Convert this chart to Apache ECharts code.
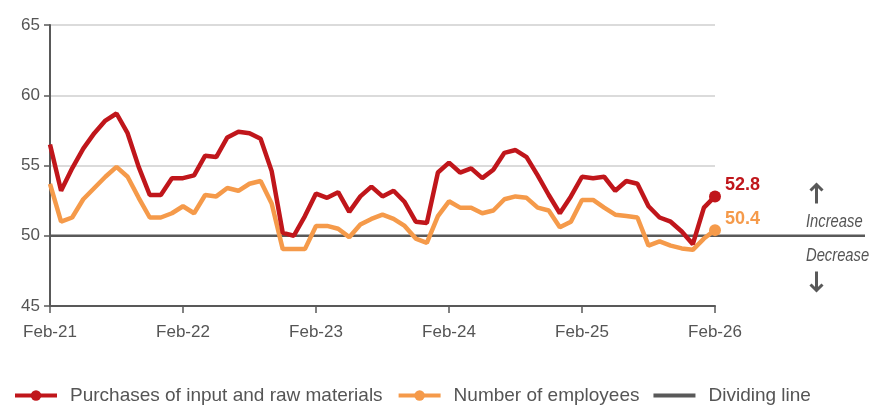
<!DOCTYPE html>
<html><head><meta charset="utf-8">
<script src="https://cdn.jsdelivr.net/npm/echarts@6/dist/echarts.min.js"></script>
<style>html,body{margin:0;padding:0;background:#fff}#c{width:870px;height:406px}</style>
</head><body><div id="c"></div>
<script>
const categories = ["Feb-21","Mar-21","Apr-21","May-21","Jun-21","Jul-21","Aug-21","Sep-21","Oct-21","Nov-21","Dec-21","Jan-22",
"Feb-22","Mar-22","Apr-22","May-22","Jun-22","Jul-22","Aug-22","Sep-22","Oct-22","Nov-22","Dec-22","Jan-23",
"Feb-23","Mar-23","Apr-23","May-23","Jun-23","Jul-23","Aug-23","Sep-23","Oct-23","Nov-23","Dec-23","Jan-24",
"Feb-24","Mar-24","Apr-24","May-24","Jun-24","Jul-24","Aug-24","Sep-24","Oct-24","Nov-24","Dec-24","Jan-25",
"Feb-25","Mar-25","Apr-25","May-25","Jun-25","Jul-25","Aug-25","Sep-25","Oct-25","Nov-25","Dec-25","Jan-26","Feb-26"];
const purchases = [56.5,53.2,54.8,56.2,57.3,58.2,58.7,57.3,54.9,52.9,
52.9,54.1,54.1,54.3,55.7,55.6,57.0,57.4,57.3,56.9,
54.6,50.2,50.0,51.4,53.0,
52.7,53.1,51.7,52.8,53.5,52.8,53.2,52.4,51.0,50.9,
54.5,55.2,54.5,54.8,54.1,54.7,55.9,56.1,55.6,54.3,
52.9,51.6,52.8,54.2,54.1,54.2,53.2,53.9,53.7,52.1,
51.3,51.0,50.3,49.4,52.0,52.8];
const employees = [53.7,51.0,51.3,52.6,53.4,54.2,54.9,54.2,52.7,51.3,
51.3,51.6,52.1,51.6,52.9,52.8,53.4,53.2,53.7,53.9,
52.3,49.05,49.05,49.05,50.7,
50.7,50.5,49.9,50.8,51.2,51.5,51.2,50.7,49.8,49.5,
51.4,52.45,52.0,52.0,51.6,51.8,52.6,52.8,52.7,52.0,
51.8,50.6,51.0,52.55,52.55,52.0,51.5,51.4,51.3,49.3,
49.6,49.3,49.1,49.0,49.8,50.4];
const dividing = [[0,50],[1,50]];
const yTicks = {min:45, max:65, interval:5};
const seriesNames = ["Purchases of input and raw materials","Number of employees","Dividing line"];
const notes = {up:"Increase", down:"Decrease"};

const FONT = "'Liberation Sans', sans-serif";
const RED = '#C0161B', ORANGE = '#F59A4A', GRAY = '#595959', TXT = '#555555';

function lastPointData(arr, color){
  return arr.map((v,i)=> i===arr.length-1 ? {
    value:v, symbol:'circle', symbolSize:12,
    label:{show:true, position:'right', offset:[-1,-11], color:color, fontWeight:'bold', fontSize:18, fontFamily:FONT,
      formatter: p=>p.value.toFixed(1)}
  } : {value:v, symbolSize:0});
}

const chart = echarts.init(document.getElementById('c'));
chart.setOption({
  animation:false,
  textStyle:{fontFamily:FONT},
  grid:[{left:50, right:155, top:25, bottom:100},
        {left:50, right:5, top:25, bottom:100}],
  xAxis:[{type:'category', data:categories, boundaryGap:false, gridIndex:0,
    axisLine:{lineStyle:{color:GRAY, width:2}},
    axisTick:{interval:11, length:7, lineStyle:{color:GRAY, width:1.5}},
    axisLabel:{interval:11, color:TXT, fontSize:17, fontFamily:FONT, margin:18},
    splitLine:{show:false}},
    {type:'value', gridIndex:1, min:0, max:1, show:false}],
  yAxis:[{type:'value', gridIndex:0, min:yTicks.min, max:yTicks.max, interval:yTicks.interval,
    axisLine:{show:true, lineStyle:{color:GRAY, width:2}},
    axisTick:{show:true, length:6, lineStyle:{color:GRAY, width:1.5}},
    axisLabel:{color:TXT, fontSize:17, fontFamily:FONT, margin:10},
    splitLine:{show:true, lineStyle:{color:'#cfcfcf', width:1.5}}},
    {type:'value', gridIndex:1, min:yTicks.min, max:yTicks.max, show:false}],
  legend:{top:381, left:8, itemWidth:42, itemHeight:13, itemGap:14,
    lineStyle:{width:4},
    textStyle:{fontSize:19, color:TXT, fontFamily:FONT, padding:[0,0,0,8]},
    data:[{name:seriesNames[0]},{name:seriesNames[1]},
      {name:seriesNames[2], icon:'path://M0,0 L42,0 L42,4 L0,4 Z', itemStyle:{color:GRAY}}]},
  series:[
    {name:seriesNames[2], type:'line', xAxisIndex:1, yAxisIndex:1, data:dividing, symbol:'none',
      lineStyle:{color:GRAY, width:2.5}, itemStyle:{color:GRAY}, z:1},
    {name:seriesNames[1], type:'line', data:lastPointData(employees, ORANGE), symbol:'circle', showSymbol:true,
      lineStyle:{color:ORANGE, width:4.5}, itemStyle:{color:ORANGE}, z:3},
    {name:seriesNames[0], type:'line', data:lastPointData(purchases, RED), symbol:'circle', showSymbol:true,
      lineStyle:{color:RED, width:4.5}, itemStyle:{color:RED}, z:4}
  ],
  graphic:[
    {type:'group', left:808, top:182, children:[
      {type:'polyline', shape:{points:[[6,0],[6,19]]}, style:{stroke:GRAY, lineWidth:3, fill:null}},
      {type:'polyline', shape:{points:[[0,6],[6,0],[12,6]]}, style:{stroke:GRAY, lineWidth:3, fill:null}}]},
    {type:'text', left:806, top:213, scaleX:0.82, style:{text:notes.up, font:"italic 18px "+FONT, fill:TXT}},
    {type:'text', left:806, top:247, scaleX:0.82, style:{text:notes.down, font:"italic 18px "+FONT, fill:TXT}},
    {type:'group', left:808, top:269, children:[
      {type:'polyline', shape:{points:[[6,0],[6,19]]}, style:{stroke:GRAY, lineWidth:3, fill:null}},
      {type:'polyline', shape:{points:[[0,13],[6,19],[12,13]]}, style:{stroke:GRAY, lineWidth:3, fill:null}}]}
  ]
});
</script></body></html>
